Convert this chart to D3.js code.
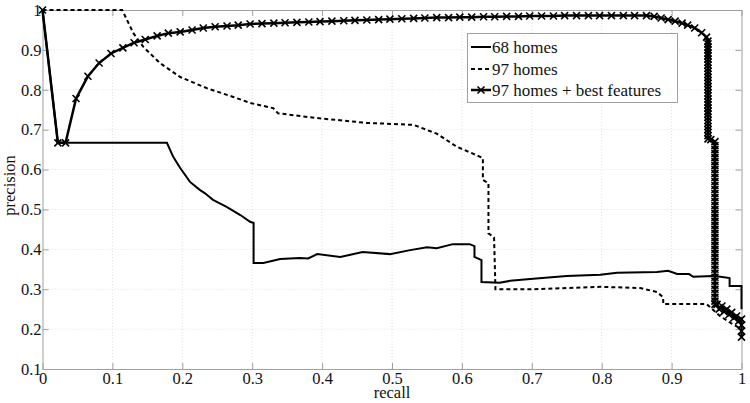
<!DOCTYPE html>
<html>
<head>
	<script src="https://cdnjs.cloudflare.com/ajax/libs/d3/7.8.5/d3.min.js"></script>
	<style>
		html, body { padding: 0; margin: 0; background: white; }
		svg text { font-family: "Liberation Serif", "Times New Roman", Times, "Nimbus Roman", "DejaVu Serif", serif !important; fill: #111; }
	</style>
</head>
<body>
	<div id="chart"></div>
	<script>
		// tick values
		var xTicks = [0, 0.1, 0.2, 0.3, 0.4, 0.5, 0.6, 0.7, 0.8, 0.9, 1];
		var yTicks = [0.1, 0.2, 0.3, 0.4, 0.5, 0.6, 0.7, 0.8, 0.9, 1];

		var seriesNames = ["68 homes", "97 homes", "97 homes + best features"];

		// 68 homes: [recall, precision]
		var homes68 = [
			[0,1],[0.022,0.667],[0.178,0.667],[0.187,0.632],[0.197,0.604],[0.211,0.569],
			[0.225,0.549],[0.232,0.541],[0.244,0.524],[0.264,0.506],[0.283,0.486],[0.297,0.469],
			[0.302,0.466],[0.302,0.366],[0.316,0.366],[0.34,0.376],[0.368,0.378],[0.38,0.377],
			[0.393,0.388],[0.426,0.381],[0.458,0.393],[0.497,0.388],[0.526,0.398],[0.55,0.405],
			[0.564,0.403],[0.587,0.413],[0.611,0.413],[0.618,0.408],[0.618,0.381],[0.628,0.373],
			[0.628,0.318],[0.654,0.316],[0.669,0.321],[0.702,0.326],[0.75,0.333],[0.798,0.336],
			[0.822,0.341],[0.879,0.343],[0.895,0.346],[0.908,0.338],[0.925,0.338],[0.931,0.331],
			[0.959,0.333],[0.97,0.331],[0.983,0.328],[0.983,0.308],[1,0.308],[1,0.25]
		];

		// 97 homes
		var homes97 = [
			[0,1],[0.114,1],[0.13,0.942],[0.144,0.908],[0.168,0.867],[0.197,0.832],[0.235,0.804],
			[0.273,0.782],[0.297,0.767],[0.33,0.754],[0.337,0.741],[0.393,0.729],[0.464,0.717],
			[0.531,0.712],[0.564,0.69],[0.593,0.657],[0.63,0.629],[0.63,0.574],[0.638,0.566],
			[0.638,0.44],[0.646,0.43],[0.648,0.3],[0.7,0.3],[0.798,0.306],[0.855,0.303],
			[0.879,0.293],[0.888,0.28],[0.888,0.263],[0.95,0.263],[0.969,0.233],[0.985,0.215],[1,0.2]
		];

		// 97 homes + best features
		var homes97best = [
			[0,1],[0.022,0.667],[0.033,0.667],[0.048,0.778],[0.065,0.834],[0.081,0.867],[0.098,0.891],
			[0.115,0.905],[0.131,0.918],[0.147,0.926],[0.164,0.935],[0.18,0.942],[0.197,0.945],
			[0.214,0.95],[0.23,0.955],[0.247,0.958],[0.264,0.96],[0.28,0.962],[0.297,0.965],
			[0.314,0.966],[0.331,0.967],[0.347,0.968],[0.364,0.969],[0.381,0.97],[0.397,0.971],
			[0.414,0.972],[0.431,0.973],[0.447,0.974],[0.464,0.975],[0.481,0.976],[0.497,0.977],
			[0.514,0.978],[0.531,0.979],[0.547,0.98],[0.564,0.981],[0.581,0.981],[0.597,0.982],
			[0.614,0.982],[0.631,0.983],[0.647,0.983],[0.664,0.984],[0.681,0.984],[0.697,0.985],
			[0.714,0.985],[0.731,0.985],[0.747,0.986],[0.764,0.986],[0.781,0.986],[0.797,0.986],
			[0.814,0.986],[0.831,0.986],[0.847,0.986],[0.864,0.986],[0.875,0.984],[0.885,0.98],
			[0.895,0.976],[0.905,0.972],[0.915,0.967],[0.923,0.962],[0.933,0.955],[0.943,0.943],
			[0.95,0.932],[0.952,0.922],
			[0.952,0.915],[0.952,0.907],[0.952,0.9],[0.952,0.892],[0.952,0.885],[0.952,0.877],
			[0.952,0.869],[0.952,0.862],[0.952,0.854],[0.952,0.846],[0.952,0.839],[0.952,0.831],
			[0.952,0.823],[0.952,0.816],[0.952,0.808],[0.952,0.8],[0.952,0.792],[0.952,0.785],
			[0.952,0.777],[0.952,0.769],[0.952,0.762],[0.952,0.754],[0.952,0.746],[0.952,0.739],
			[0.952,0.731],[0.952,0.723],[0.952,0.716],[0.952,0.708],[0.952,0.7],[0.952,0.693],
			[0.952,0.685],[0.952,0.677],[0.956,0.675],[0.962,0.67],
			[0.962,0.66],[0.962,0.65],[0.962,0.64],[0.962,0.63],[0.962,0.62],[0.962,0.61],
			[0.962,0.6],[0.962,0.59],[0.962,0.58],[0.962,0.57],[0.962,0.56],[0.962,0.55],
			[0.962,0.54],[0.962,0.53],[0.962,0.52],[0.962,0.51],[0.962,0.5],[0.962,0.49],
			[0.962,0.48],[0.962,0.47],[0.962,0.46],[0.962,0.45],[0.962,0.44],[0.962,0.43],
			[0.962,0.42],[0.962,0.41],[0.962,0.4],[0.962,0.39],[0.962,0.38],[0.962,0.37],
			[0.962,0.36],[0.962,0.35],[0.962,0.34],[0.962,0.33],[0.962,0.32],[0.962,0.31],
			[0.962,0.3],[0.962,0.29],[0.962,0.28],[0.962,0.27],[0.962,0.262],
			[0.965,0.262],[0.968,0.25],[0.972,0.258],[0.975,0.244],[0.979,0.25],[0.982,0.236],
			[0.986,0.242],[0.989,0.228],[0.993,0.233],[0.996,0.22],[1,0.225],[1,0.21],[1,0.195],[1,0.18]
		];

		var width = 750, height = 403;
		var x0 = 42.5, x1 = 741.5, y0 = 369, y1 = 10;
		var serif = '"Liberation Serif", "Times New Roman", Times, "Nimbus Roman", "DejaVu Serif", serif';

		var svg = d3.select('#chart').append('svg')
			.attr('width', width)
			.attr('height', height)
			.style('background-color', 'white')
			.style('font-family', serif);

		var x = d3.scaleLinear().domain([0, 1]).range([x0, x1]);
		var y = d3.scaleLinear().domain([0.1, 1]).range([y0, y1]);

		// grid
		svg.append('g').selectAll('line')
			.data(xTicks.slice(1, -1))
			.enter().append('line')
			.attr('x1', function(d) { return x(d); }).attr('x2', function(d) { return x(d); })
			.attr('y1', y0).attr('y2', y1)
			.attr('stroke', '#e2e2e2').attr('stroke-dasharray', '1,2');
		svg.append('g').selectAll('line')
			.data(yTicks.slice(1, -1))
			.enter().append('line')
			.attr('x1', x0).attr('x2', x1)
			.attr('y1', function(d) { return y(d); }).attr('y2', function(d) { return y(d); })
			.attr('stroke', '#e2e2e2').attr('stroke-dasharray', '1,2');

		// axes (inward ticks, box)
		var axisColor = '#a0a0a0';
		var xb = svg.append('g').attr('transform', 'translate(0,' + y0 + ')')
			.call(d3.axisBottom(x).tickValues(xTicks).tickSizeInner(-6).tickSizeOuter(0)
				.tickFormat(function(d) { return d === 0 ? '0' : d === 1 ? '1' : d3.format('.1f')(d); }));
		var xt = svg.append('g').attr('transform', 'translate(0,' + y1 + ')')
			.call(d3.axisTop(x).tickValues(xTicks).tickSizeInner(-6).tickSizeOuter(0).tickFormat(''));
		var yl = svg.append('g').attr('transform', 'translate(' + x0 + ',0)')
			.call(d3.axisLeft(y).tickValues(yTicks).tickSizeInner(-6).tickSizeOuter(0)
				.tickFormat(function(d) { return d === 1 ? '1' : d3.format('.1f')(d); }));
		var yr = svg.append('g').attr('transform', 'translate(' + x1 + ',0)')
			.call(d3.axisRight(y).tickValues(yTicks).tickSizeInner(-6).tickSizeOuter(0).tickFormat(''));

		[xb, xt, yl, yr].forEach(function(g) {
			g.attr('font-family', null);
			g.select('.domain').attr('stroke', axisColor);
			g.selectAll('.tick line').attr('stroke', axisColor);
		});
		xb.selectAll('text').attr('font-size', 16.5).attr('y', 4).attr('dy', '0.68em');
		yl.selectAll('text').attr('font-size', 16.5).attr('x', -1);

		// axis titles
		svg.append('text').attr('x', (x0 + x1) / 2).attr('y', 398)
			.attr('text-anchor', 'middle').attr('font-size', 16.5).text('recall');
		svg.append('text').attr('transform', 'translate(15,' + ((y0 + y1) / 2 - 4) + ') rotate(-90)')
			.attr('text-anchor', 'middle').attr('font-size', 16.5).text('precision');

		var line = d3.line()
			.x(function(d) { return x(d[0]); })
			.y(function(d) { return y(d[1]); });

		svg.append('path').datum(homes68)
			.attr('d', line).attr('fill', 'none').attr('stroke', '#000').attr('stroke-width', 2);
		svg.append('path').datum(homes97)
			.attr('d', line).attr('fill', 'none').attr('stroke', '#000').attr('stroke-width', 2)
			.attr('stroke-dasharray', '4,3');
		svg.append('path').datum(homes97best)
			.attr('d', line).attr('fill', 'none').attr('stroke', '#000').attr('stroke-width', 2.5);

		var cross = 'M-3.5,-3.5L3.5,3.5M-3.5,3.5L3.5,-3.5';
		svg.append('g').selectAll('path')
			.data(homes97best)
			.enter().append('path')
			.attr('transform', function(d) { return 'translate(' + x(d[0]) + ',' + y(d[1]) + ')'; })
			.attr('d', cross).attr('stroke', '#000').attr('stroke-width', 1.6).attr('fill', 'none');

		// legend
		var lg = svg.append('g');
		lg.append('rect').attr('x', 467.5).attr('y', 33.5).attr('width', 210).attr('height', 69)
			.attr('fill', 'white').attr('stroke', axisColor);
		var rows = [47, 69, 90];
		seriesNames.forEach(function(name, i) {
			var ly = rows[i];
			var l = lg.append('line').attr('x1', 471).attr('x2', 491).attr('y1', ly).attr('y2', ly)
				.attr('stroke', '#000').attr('stroke-width', i === 2 ? 2.5 : 2);
			if (i === 1) l.attr('stroke-dasharray', '4,3');
			if (i === 2) lg.append('path').attr('transform', 'translate(481,' + ly + ')')
				.attr('d', cross).attr('stroke', '#000').attr('stroke-width', 1.6);
			lg.append('text').attr('x', 492).attr('y', ly + 5.5).attr('font-size', 17).text(name);
		});
	</script>
</body>
</html>
